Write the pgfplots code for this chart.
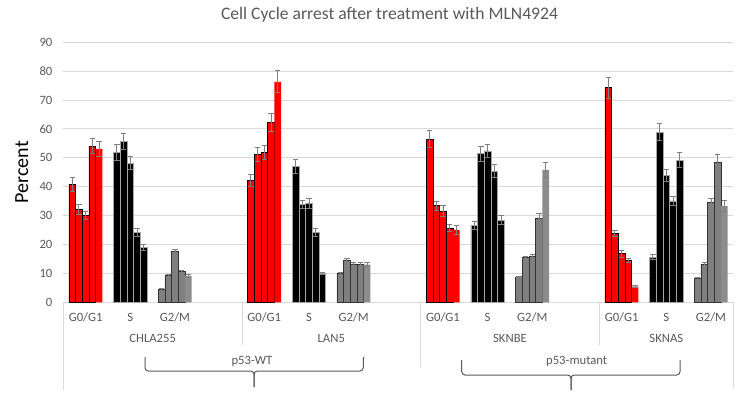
\documentclass[border=0pt]{standalone}
\usepackage{pgfplots}
\pgfplotsset{compat=1.18}
\usepackage{pgfplotstable}
\usepackage{fontspec}
\setmainfont{Carlito}
\definecolor{txt}{HTML}{595959}
\definecolor{gridc}{HTML}{D9D9D9}
\definecolor{barred}{HTML}{FF0000}
\definecolor{bargray}{HTML}{7F7F7F}
\definecolor{bargrayb}{HTML}{8C8C8C}
\definecolor{errc}{HTML}{7F7F7F}

\pgfplotstableread{
x y e
-0.30 40.8 2.3
-0.15 32.2 1.7
0.00 30.2 1.4
0.15 54.1 2.7
3.70 42.2 2.1
3.85 51.2 2.5
4.00 51.8 2.5
4.15 62.2 3.2
7.70 56.5 2.9
7.85 33.4 1.6
8.00 31.6 1.8
8.15 25.7 1.2
11.70 74.3 3.7
11.85 23.9 1.0
12.00 16.8 1.2
12.15 14.4 0.7
}\redmain
\pgfplotstableread{
x y e
0.30 53.1 2.7
4.30 76.3 3.8
8.30 25.1 1.6
12.30 5.4 0.3
}\redfifth
\pgfplotstableread{
x y e
0.70 51.9 2.7
0.85 55.7 2.7
1.00 48.2 2.2
1.15 24.2 1.3
4.70 47.1 2.5
4.85 33.8 1.4
5.00 34.3 1.8
5.15 24.2 1.3
8.70 26.5 1.4
8.85 51.4 2.5
9.00 52.4 2.3
9.15 45.4 2.2
12.70 15.6 0.8
12.85 58.9 2.9
13.00 43.8 2.1
13.15 35.1 1.7
}\blackmain
\pgfplotstableread{
x y e
1.30 18.9 1.0
5.30 9.9 0.4
9.30 28.4 1.6
13.30 49.2 2.5
}\blackfifth
\pgfplotstableread{
x y e
1.70 4.4 0.3
1.85 9.2 0.4
2.00 17.6 0.8
2.15 10.6 0.5
5.70 10.1 0.3
5.85 14.7 0.5
6.00 13.3 0.5
6.15 13.2 0.5
9.70 8.8 0.3
9.85 15.6 0.4
10.00 15.8 0.6
10.15 29.1 1.6
13.70 8.2 0.3
13.85 13.2 0.5
14.00 34.5 1.6
14.15 48.6 2.5
}\graymain
\pgfplotstableread{
x y e
2.30 9.1 0.5
6.30 13.0 0.7
10.30 45.8 2.5
14.30 33.3 2.0
}\grayfifth

\pgfplotsset{
  errstyle/.style={
    error bars/.cd, y dir=both, y explicit,
    error bar style={errc, line width=0.7pt},
    error mark options={rotate=90, errc, mark size=2pt, line width=0.7pt}
  }
}

\begin{document}
\begin{tikzpicture}
\useasboundingbox (0,0) rectangle (557.25pt,303pt);
\begin{axis}[
  at={(47.475pt,76.275pt)}, anchor=south west,
  scale only axis, width=502.5pt, height=195pt,
  xmin=-0.5, xmax=14.5, ymin=0, ymax=90,
  ytick={0,10,...,90},
  ymajorgrids, grid style={gridc, line width=0.75pt},
  axis line style={draw=none},
  major tick length=0pt,
  xtick={0,1,2,4,5,6,8,9,10,12,13,14},
  xticklabels={G0/G1,S,G2/M,G0/G1,S,G2/M,G0/G1,S,G2/M,G0/G1,S,G2/M},
  tick label style={font=\fontsize{9.5}{11}\selectfont, text=txt},
  xticklabel style={anchor=base, yshift=-14.6pt},
  yticklabel style={anchor=east, inner sep=0pt, xshift=-8pt},
  /pgf/number format/assume math mode=true,
  clip=false,
]
\addplot[ybar, bar width=0.15, bar shift=0pt, fill=barred, draw=black, line width=0.5pt, errstyle] table[x=x,y=y,y error=e]{\redmain};
\addplot[ybar, bar width=0.15, bar shift=0pt, fill=barred, draw=none, errstyle] table[x=x,y=y,y error=e]{\redfifth};
\addplot[ybar, bar width=0.15, bar shift=0pt, fill=black, draw=gray!70, line width=0.5pt, errstyle] table[x=x,y=y,y error=e]{\blackmain};
\addplot[ybar, bar width=0.15, bar shift=0pt, fill=black, draw=gray!70, line width=0.5pt, errstyle] table[x=x,y=y,y error=e]{\blackfifth};
\addplot[ybar, bar width=0.15, bar shift=0pt, fill=bargray, draw=black!80, line width=0.5pt, errstyle] table[x=x,y=y,y error=e]{\graymain};
\addplot[ybar, bar width=0.15, bar shift=0pt, fill=bargrayb, draw=none, errstyle] table[x=x,y=y,y error=e]{\grayfifth};
\end{axis}
\begin{scope}[x=0.75pt, y=-0.75pt, shift={(0,303pt)}]
  % separators
  \draw[gridc, line width=0.75pt] (63.3,302.3) -- (63.3,390);
  \draw[gridc, line width=0.75pt] (242,302.3) -- (242,345);
  \draw[gridc, line width=0.75pt] (420.7,302.3) -- (420.7,366.7);
  \draw[gridc, line width=0.75pt] (599.3,302.3) -- (599.3,345);
  \draw[gridc, line width=0.75pt] (733.3,302.3) -- (733.3,388);
  % cell line labels
  \begin{scope}[every node/.style={font=\fontsize{9.5}{11}\selectfont, text=txt, anchor=base, inner sep=0pt}]
    \node at (152.7,342.2) {CHLA255};
    \node at (331.3,342.2) {LAN5};
    \node at (510,342.2) {SKNBE};
    \node at (666.3,342.2) {SKNAS};
    \node at (252,364.9) {p53-WT};
    \node at (576.7,364.9) {p53-mutant};
  \end{scope}
  % brackets
  \draw[txt, line width=0.75pt, rounded corners=2.5pt] (145,357) -- (145,371) -- (254,371) -- (254,387);
  \draw[txt, line width=0.75pt, rounded corners=2.5pt] (363.3,357) -- (363.3,371) -- (254,371) -- (254,387);
  \draw[txt, line width=0.75pt, rounded corners=2.5pt] (461.7,360) -- (461.7,375) -- (571,375) -- (571,390);
  \draw[txt, line width=0.75pt, rounded corners=2.5pt] (680,360) -- (680,375) -- (571,375) -- (571,390);
  % title
  \node[font=\fontsize{13.2}{15}\selectfont, text=txt] at (389.5,15) {Cell Cycle arrest after treatment with MLN4924};
  % y label
  \node[font=\fontsize{15}{17}\selectfont, text=black, rotate=90] at (21.7,172.3) {Percent};
\end{scope}
\end{tikzpicture}
\end{document}
